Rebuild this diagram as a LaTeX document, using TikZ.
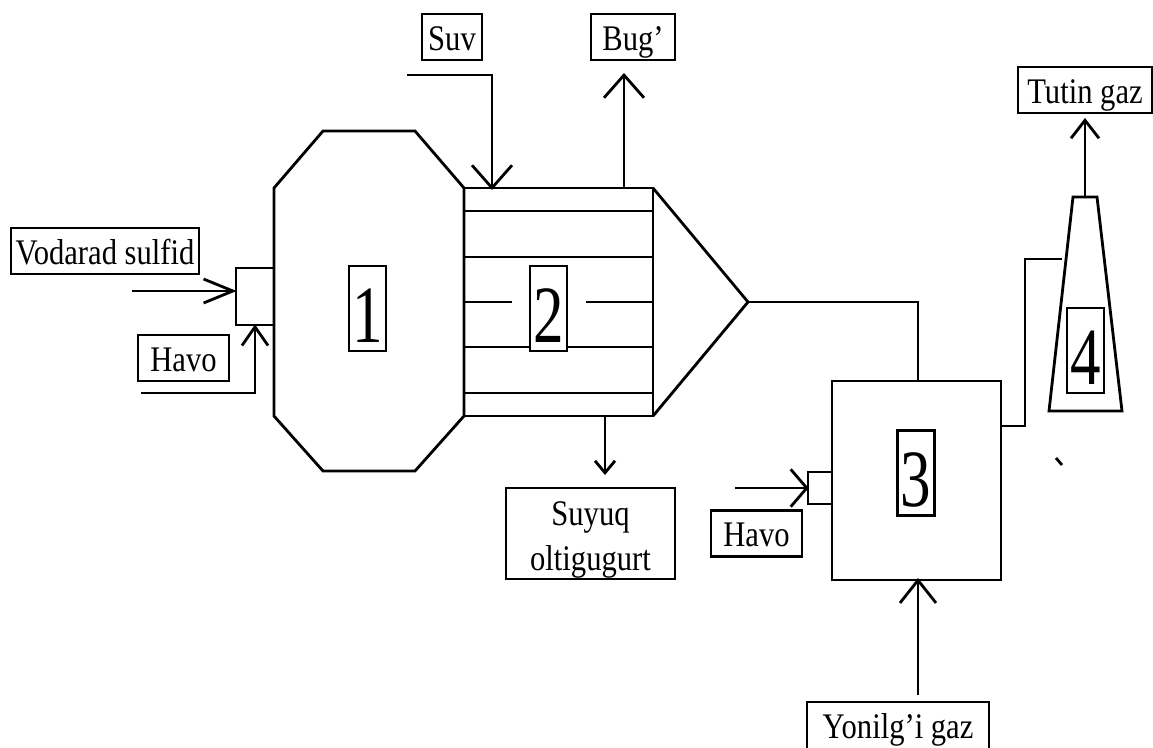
\documentclass[tikz,border=0pt]{standalone}
\usepackage{fontspec}
\setmainfont[FakeStretch=0.85]{Liberation Serif}
\newfontfamily\digitfont[FakeStretch=0.75]{Liberation Serif}
\usetikzlibrary{arrows.meta}

\tikzset{
  line/.style={line width=2.1pt},
  unit/.style={draw,line width=2.1pt,inner sep=0pt},
  label/.style={draw,fill=white,line width=2.1pt,inner sep=0pt,text height=27pt,text depth=7.5pt,font=\fontsize{27}{33.75}\selectfont},
  digit/.style={draw,fill=white,line width=1.9pt,inner sep=0pt,minimum width=27.75pt,text height=57pt,text depth=6.75pt,font=\digitfont\fontsize{61}{61}\selectfont},
  barb/.style 2 args={-{Straight Barb[length=#1,width=#2]},shorten >=-1.5pt},
}

\begin{document}
\begin{tikzpicture}[x=0.75pt,y=-0.75pt]
        \useasboundingbox (0,0) rectangle (1153,747);
        % apparatus
        \draw[line] (274,188) -- (323,131) -- (415,131) -- (464,188) -- (464,416) -- (415,471) -- (323,471) -- (274,416) -- cycle;
        \draw[line] (464,188) rectangle (653,416);
        \draw[line] (653,188) -- (748,302) -- (653,416);
        \draw[line] (464,211) -- (653,211);
        \draw[line] (464,257) -- (653,257);
        \draw[line] (464,302) -- (512,302);
        \draw[line] (586,302) -- (653,302);
        \draw[line] (464,347) -- (653,347);
        \draw[line] (464,393) -- (653,393);
        \draw[line] (1073,197) -- (1097,197) -- (1122,411) -- (1049,411) -- cycle;
        \draw[line] (1056,458) -- (1062,465);
        \node[unit,minimum width=28.5pt,minimum height=42.75pt] (burner) at (255,296.5) {};
        \node[unit,minimum width=18pt,minimum height=24pt] (nozzle) at (820,488) {};
        \node[unit,minimum width=126.75pt,minimum height=149.25pt] (oven) at (916.5,480.5) {};
        % points on the apparatus
        \coordinate (boilertop) at (492,188);
        \coordinate (boilerout) at (624,188);
        \coordinate (boilerlow) at (605,416);
        \coordinate (conetip) at (748,302);
        \coordinate (ovenin) at (918,381);
        \coordinate (ovenlow) at (918,580);
        \coordinate (ovenout) at (1001,426);
        \coordinate (stackbend) at (1025,426);
        \coordinate (stackin) at (1062,259);
        \coordinate (stacktop) at (1085,197);
        % free ends
        \coordinate (gasstart) at (132,291);
        \coordinate (airstart) at (141,393);
        \coordinate (waterstart) at (407,75);
        \coordinate (steamend) at (624,75);
        \coordinate (sulfurend) at (605,473);
        \coordinate (air2start) at (735,488);
        \coordinate (fuelstart) at (918,695);
        \coordinate (smokeend) at (1085,120);
        % numbers
        \node[digit] (d1) at (367.5,308.5) {1};
        \node[digit] (d2) at (548.5,308.5) {2};
        \node[digit] (d3) at (916,473) {3};
        \node[digit] (d4) at (1085.5,350.5) {4};
        % labels
        \node[label,minimum width=141pt] (gas) at (105,251) {Vodarad sulfid};
        \node[label,minimum width=68.25pt] (air) at (183.5,358) {Havo};
        \node[label,minimum width=45pt] (water) at (452,37) {Suv};
        \node[label,minimum width=63pt] (steam) at (633,37) {Bug’};
        \node[label,minimum width=126.75pt,align=center,text height=61.5pt,text depth=6.75pt] (sulfur) at (590.5,533.5) {Suyuq\\oltigugurt};
        \node[label,minimum width=68.25pt] (air2) at (756.5,533.5) {Havo};
        \node[label,minimum width=100.5pt] (smoke) at (1085,90) {Tutin gaz};
        \node[label,minimum width=136.5pt,text depth=9pt] (fuel) at (898,726) {Yonilg’i gaz};
        % connectors
        \draw[line,barb={22pt}{18pt}] (gasstart) -- (gasstart -| burner.west);
        \draw[line,barb={14pt}{19.5pt}] (airstart) -| (burner.south);
        \draw[line,barb={17pt}{30pt}] (waterstart) -| (boilertop);
        \draw[line,barb={17pt}{30pt}] (boilerout) -- (steamend);
        \draw[line,barb={9pt}{15pt}] (boilerlow) -- (sulfurend);
        \draw[line] (conetip) -| (ovenin);
        \draw[line,barb={12pt}{28pt}] (air2start) -- (nozzle.west);
        \draw[line,barb={17pt}{27pt}] (fuelstart) -- (ovenlow);
        \draw[line] (ovenout) -- (stackbend) |- (stackin);
        \draw[line,barb={13.5pt}{21pt}] (stacktop) -- (smokeend);
    \end{tikzpicture}
\end{document}
